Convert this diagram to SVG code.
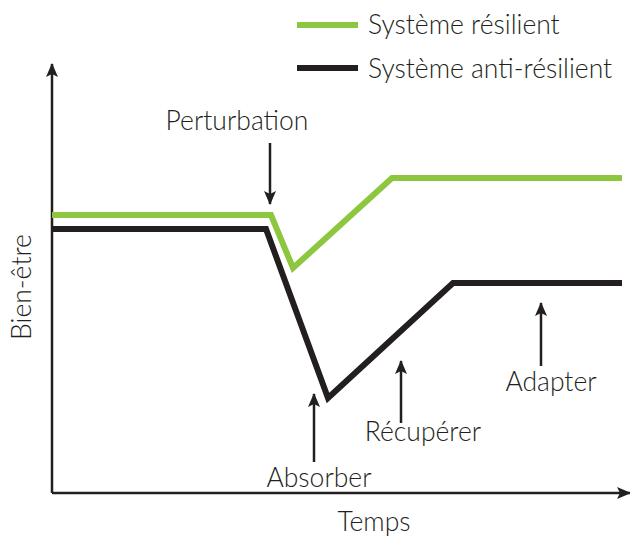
<svg xmlns="http://www.w3.org/2000/svg" width="630" height="538" viewBox="0 0 630 538">
<style>
text{font-family:Lato,"Open Sans","Liberation Sans",sans-serif;font-size:26.5px;font-weight:300;fill:#231f20}
.axis{stroke:#231f20;stroke-width:2.5;fill:none}
.ptr{stroke:#231f20;stroke-width:2.5;fill:none}
.green{stroke:#8dc63f;stroke-width:6;fill:none;stroke-linejoin:miter}
.black{stroke:#231f20;stroke-width:6;fill:none;stroke-linejoin:miter}
</style>
<defs>
<marker id="ah" viewBox="0 0 14 12" refX="13" refY="6" markerWidth="14" markerHeight="12" markerUnits="userSpaceOnUse" orient="auto">
<path d="M0,0 L14,6 L0,12 L3,6 Z" fill="#231f20"/>
</marker>
</defs>
<g id="legend">
<line x1="297" y1="25" x2="358" y2="25" class="green"/>
<text x="368" y="34">Système résilient</text>
<line x1="297" y1="68" x2="358" y2="68" class="black"/>
<text x="368" y="78">Système anti-résilient</text>
</g>
<g id="axes">
<line x1="52" y1="493" x2="52" y2="64" class="axis" marker-end="url(#ah)"/>
<line x1="52" y1="493" x2="630" y2="493" class="axis" marker-end="url(#ah)"/>
<text x="374" y="531" text-anchor="middle">Temps</text>
<text transform="translate(31,287) rotate(-90)" text-anchor="middle">Bien-être</text>
</g>
<g id="series">
<polyline class="green" points="52,215 271,215 293,268 392,178 622,178"/>
<polyline class="black" points="52,229 266,229 328,398 453,283 622,283"/>
</g>
<g id="connectors">
<line x1="270" y1="143" x2="270" y2="204" class="ptr" marker-end="url(#ah)"/>
<line x1="314" y1="462" x2="314" y2="394" class="ptr" marker-end="url(#ah)"/>
<line x1="401" y1="423" x2="401" y2="361" class="ptr" marker-end="url(#ah)"/>
<line x1="541" y1="366" x2="541" y2="303" class="ptr" marker-end="url(#ah)"/>
</g>
<g id="labels">
<text x="237" y="130" text-anchor="middle">Perturbation</text>
<text x="319" y="487" text-anchor="middle">Absorber</text>
<text x="423" y="441" text-anchor="middle">Récupérer</text>
<text x="551" y="391" text-anchor="middle">Adapter</text>
</g>
</svg>
